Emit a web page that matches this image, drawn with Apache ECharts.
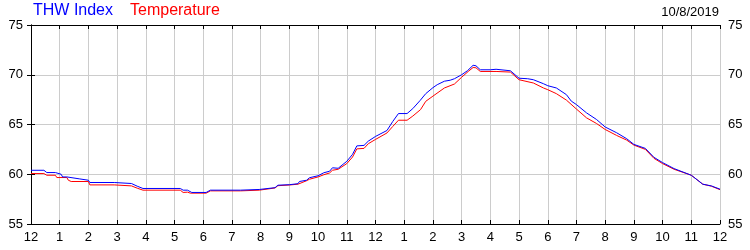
<!DOCTYPE html>
<html><head><meta charset="utf-8">
<script src="https://cdn.jsdelivr.net/npm/echarts@6/dist/echarts.min.js"></script>
<style>html,body{margin:0;padding:0;background:#fff}#c{width:750px;height:250px}</style>
</head><body><div id="c"></div>
<script>
var title = "THW Index";
var title2 = "Temperature";
var dateLabel = "10/8/2019";
var hourTicks = ["12","1","2","3","4","5","6","7","8","9","10","11","12","1","2","3","4","5","6","7","8","9","10","11","12"];
var yTicks = [55, 60, 65, 70, 75];

var thwHours = [0,0.45,0.55,0.85,0.9,1.05,1.1,1.25,1.3,1.7,1.75,2.0,2.05,2.9,2.95,3.5,3.7,3.9,5.2,5.3,5.45,5.5,5.6,6.1,6.25,7.3,7.35,7.95,8.0,8.5,8.6,9.0,9.3,9.35,9.6,9.7,10.0,10.2,10.4,10.5,10.7,11.0,11.2,11.35,11.6,11.75,12.0,12.4,12.6,12.8,13.1,13.3,13.55,13.75,14.0,14.15,14.4,14.6,14.75,15.0,15.2,15.4,15.5,15.65,16.0,16.2,16.7,17.0,17.3,17.5,17.85,18.0,18.3,18.65,18.82,19.0,19.35,19.7,20.0,20.4,20.75,21.0,21.4,21.7,22.0,22.4,23.0,23.4,23.7,24.0];
var thwValues = [60.4,60.4,60.17,60.17,60.0,60.0,59.73,59.73,59.53,59.53,59.4,59.4,59.17,59.17,59.07,59.07,58.8,58.57,58.57,58.4,58.4,58.5,58.17,58.17,58.4,58.4,58.47,58.47,58.6,58.65,58.9,58.95,59.05,59.27,59.4,59.65,59.85,60.15,60.3,60.65,60.6,61.3,62.0,62.85,62.9,63.33,63.8,64.4,65.3,66.1,66.1,66.6,67.4,68.1,68.7,69.0,69.35,69.45,69.6,70.0,70.4,70.95,70.9,70.5,70.5,70.55,70.4,69.65,69.6,69.5,69.1,68.9,68.67,68.0,67.35,67.0,66.17,65.5,64.75,64.17,63.57,63.0,62.6,61.7,61.17,60.57,59.9,59.0,58.83,58.5];

var tempHours = [0,0.45,0.55,0.85,0.9,1.25,1.3,1.4,2.0,2.05,2.9,2.95,3.5,3.7,3.9,5.2,5.3,5.45,5.55,6.1,6.25,7.3,7.35,7.95,8.0,8.5,8.6,9.0,9.3,9.35,9.6,9.7,10.0,10.2,10.4,10.5,10.7,11.0,11.2,11.35,11.6,11.75,12.0,12.4,12.6,12.8,13.1,13.3,13.57,13.75,14.0,14.4,14.75,15.0,15.23,15.4,15.5,15.65,16.2,16.7,17.0,17.5,17.85,18.0,18.3,18.65,19.0,19.35,19.7,20.0,20.4,20.75,21.0,21.4,21.7,22.0,22.4,23.0,23.4,23.7,24.0];
var tempValues = [60.07,60.07,59.9,59.9,59.67,59.67,59.4,59.27,59.27,58.93,58.93,58.83,58.83,58.6,58.4,58.4,58.17,58.2,58.1,58.1,58.33,58.33,58.4,58.4,58.6,58.62,58.85,58.92,59.0,59.2,59.35,59.5,59.73,59.95,60.13,60.4,60.5,61.07,61.73,62.55,62.6,63.07,63.5,64.15,64.8,65.43,65.43,65.85,66.5,67.33,67.85,68.67,69.07,69.75,70.33,70.73,70.7,70.33,70.33,70.27,69.5,69.17,68.67,68.5,68.1,67.45,66.55,65.67,65.1,64.5,63.9,63.43,62.93,62.5,61.6,61.07,60.5,59.9,59.0,58.8,58.45];

function pairs(h, v){ return h.map(function(x,i){ return [x, v[i]]; }); }

var chart = echarts.init(document.getElementById('c'), null, {renderer:'canvas'});
var font = 'Arial, "Liberation Sans", sans-serif';
var yAxisBase = {
  type:'value', min:yTicks[0], max:yTicks[yTicks.length-1], interval:5,
  axisLine:{show:true, lineStyle:{color:'#000', width:1}},
  axisTick:{show:true, inside:true, length:4, lineStyle:{color:'#000'}},
  axisLabel:{color:'#000', fontSize:13, fontFamily:font, margin:8},
  splitLine:{show:false}
};
chart.setOption({
  animation:false,
  backgroundColor:'#fff',
  graphic:[
    {type:'text', left:33, top:3, style:{text:title, fill:'#0000ff', font:'16px '+font}},
    {type:'text', left:130, top:3, style:{text:title2, fill:'#ff0000', font:'16px '+font}},
    {type:'text', right:31, top:6, style:{text:dateLabel, fill:'#000', font:'13px '+font}}
  ],
  grid:{left:31, right:30, top:25, bottom:26, show:false},
  xAxis:[{
    type:'value', min:0, max:24, interval:1,
    axisLine:{show:true, onZero:false, lineStyle:{color:'#000'}},
    axisTick:{show:true, inside:true, length:4, lineStyle:{color:'#000'}},
    axisLabel:{color:'#000', fontSize:13, fontFamily:font, margin:7, formatter:function(v){ return hourTicks[Math.round(v)]; }},
    splitLine:{show:true, lineStyle:{color:'#cccccc', width:1}}
  },{
    type:'value', min:0, max:24, interval:1, position:'top',
    axisLine:{show:true, onZero:false, lineStyle:{color:'#000'}},
    axisTick:{show:true, inside:true, length:4, lineStyle:{color:'#000'}},
    axisLabel:{show:false}, splitLine:{show:false}
  }],
  yAxis:[
    Object.assign({}, yAxisBase, {position:'left', splitLine:{show:true, lineStyle:{color:'#cccccc', width:1}}}),
    Object.assign({}, yAxisBase, {position:'right'})
  ],
  series:[
    {type:'line', name:title, data:pairs(thwHours, thwValues), showSymbol:false, symbol:'none',
     lineStyle:{color:'#0000ff', width:1}, itemStyle:{color:'#0000ff'}, z:3},
    {type:'line', name:title2, data:pairs(tempHours, tempValues), showSymbol:false, symbol:'none',
     lineStyle:{color:'#ff0000', width:1}, itemStyle:{color:'#ff0000'}, z:2}
  ]
});
</script></body></html>
